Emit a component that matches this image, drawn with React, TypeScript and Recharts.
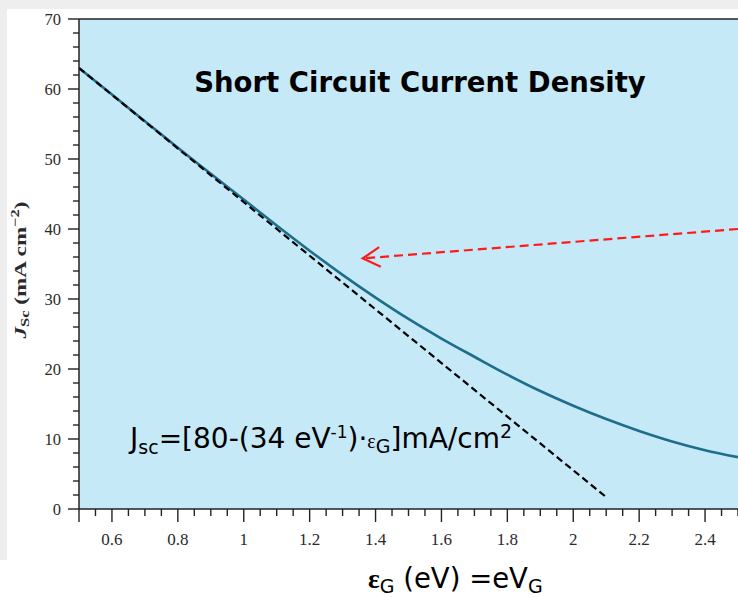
import React from "react";
import { LineChart, Line, XAxis, YAxis, ReferenceArea, ReferenceLine } from "recharts";

// Band-gap energies (eV) and short-circuit current density (mA/cm^2) of the solid curve
const gapEnergies = [0.5, 0.6, 0.7, 0.8, 0.9, 1.0, 1.1, 1.2, 1.3, 1.4, 1.5, 1.6, 1.7, 1.8, 1.9, 2.0, 2.1, 2.2, 2.3, 2.4, 2.5];
const jscValues = [63.0, 59.2, 55.4, 51.6, 47.9, 44.2, 40.5, 36.9, 33.45, 30.2, 27.15, 24.35, 21.75, 19.2, 16.85, 14.75, 12.85, 11.15, 9.65, 8.4, 7.4];

// Linear approximation (dashed black)
const fitEnergies = [0.5, 2.1];
const fitValues = [63.0, 1.7];

// Red arrow (dashed shaft and open head)
const arrowShaftX = [2.5, 1.361];
const arrowShaftY = [40.0, 35.8];
const arrowHeadX = [1.411, 1.361, 1.416];
const arrowHeadY = [37.4, 35.8, 34.6];

// Axis ticks
const xMajorLabels = ["0.6", "0.8", "1", "1.2", "1.4", "1.6", "1.8", "2", "2.2", "2.4"];
const yMajorLabels = ["0", "10", "20", "30", "40", "50", "60", "70"];
const xTicks = Array.from({ length: 41 }, (_, i) => Math.round((0.5 + i * 0.05) * 100) / 100);
const yTicks = Array.from({ length: 36 }, (_, i) => i * 2);

const zip = (xs: number[], ys: number[]) => xs.map((x, i) => ({ x, y: ys[i] }));
const curveData = zip(gapEnergies, jscValues);
const fitData = zip(fitEnergies, fitValues);
const shaftData = zip(arrowShaftX, arrowShaftY);
const headData = zip(arrowHeadX, arrowHeadY);

const AXIS = "#222";
const TICK_FONT = "'Liberation Serif', 'Times New Roman', serif";
const SANS = "'DejaVu Sans', Verdana, sans-serif";

const XTick = (props: any) => {
  const { x, y, payload } = props;
  const v = payload.value as number;
  const label = xMajorLabels.find((l) => Math.abs(parseFloat(l) - v) < 1e-6);
  const long = !!label || Math.abs(v - 0.5) < 1e-6;
  return (
    <g>
      <line x1={x} y1={y} x2={x} y2={y + (long ? 13 : 7)} stroke={AXIS} strokeWidth={1.4} />
      {label && (
        <text x={x} y={y + 36} textAnchor="middle" fontFamily={TICK_FONT} fontSize={17} fill="#2a2a2a">
          {label}
        </text>
      )}
    </g>
  );
};

const YTick = (props: any) => {
  const { x, y, payload } = props;
  const v = payload.value as number;
  const label = yMajorLabels.find((l) => parseFloat(l) === v);
  return (
    <g>
      <line x1={x - (label ? 11 : 6)} y1={y} x2={x} y2={y} stroke={AXIS} strokeWidth={1.4} />
      {label && (
        <text x={x - 18} y={y + 5.5} textAnchor="end" fontFamily={TICK_FONT} fontSize={16.5} fill="#2a2a2a">
          {label}
        </text>
      )}
    </g>
  );
};

export default function App() {
  return (
    <div style={{ position: "absolute", left: 0, top: 0, width: 738, height: 597, background: "#fff", overflow: "hidden" }}>
      <div style={{ position: "absolute", left: 0, top: 0, width: 738, height: 9, background: "#eeeeee" }} />
      <div style={{ position: "absolute", left: 0, top: 0, width: 7, height: 560, background: "#eeeeee" }} />
      <div style={{ position: "absolute", left: 0, top: 0 }}>
        <LineChart width={738} height={597} margin={{ top: 19, right: 0, bottom: 0, left: 0 }}>
          <XAxis
            type="number"
            dataKey="x"
            domain={[0.5, 2.5]}
            ticks={xTicks}
            interval={0}
            tickSize={0}
            tickMargin={0}
            tick={XTick}
            height={88}
            axisLine={{ stroke: AXIS, strokeWidth: 1.5 }}
            allowDataOverflow
          />
          <YAxis
            type="number"
            domain={[0, 70]}
            ticks={yTicks}
            interval={0}
            tickSize={0}
            tickMargin={0}
            tick={YTick}
            width={79}
            axisLine={{ stroke: AXIS, strokeWidth: 1.5 }}
            allowDataOverflow
          />
          <ReferenceArea x1={0.5} x2={2.5} y1={0} y2={70} fill="#c6e9f8" fillOpacity={1} stroke="none" />
          <ReferenceLine y={70} stroke={AXIS} strokeWidth={1.5} />
          <Line data={curveData} dataKey="y" type="monotone" stroke="#1e6e8b" strokeWidth={2.6} dot={false} activeDot={false} isAnimationActive={false} />
          <Line data={fitData} dataKey="y" type="linear" stroke="#000" strokeWidth={2.2} strokeDasharray="7 4" dot={false} activeDot={false} isAnimationActive={false} />
          <Line data={shaftData} dataKey="y" type="linear" stroke="#ff1a1a" strokeWidth={2.2} strokeDasharray="9 5" dot={false} activeDot={false} isAnimationActive={false} />
          <Line data={headData} dataKey="y" type="linear" stroke="#ff1a1a" strokeWidth={2.2} dot={false} activeDot={false} isAnimationActive={false} />
        </LineChart>
      </div>
      <svg width={738} height={597} style={{ position: "absolute", left: 0, top: 0, pointerEvents: "none" }}>
        <text x={420} y={92} textAnchor="middle" fontFamily={SANS} fontWeight="bold" fontSize={27.5} fill="#000">
          Short Circuit Current Density
        </text>
        <text x={130} y={448} fontFamily={SANS} fontSize={28} fill="#000">
          <tspan>J</tspan>
          <tspan fontSize={19} dy={6}>sc</tspan>
          <tspan dy={-6}>=[80-(34 eV</tspan>
          <tspan fontSize={17} dy={-10}>-1</tspan>
          <tspan dy={10}>)·</tspan>
          <tspan fontSize={20} fontFamily={TICK_FONT}>ε</tspan>
          <tspan fontSize={19} dy={5}>G</tspan>
          <tspan dy={-5}>]mA/cm</tspan>
          <tspan fontSize={19} dy={-10}>2</tspan>
        </text>
        <text x={368} y={588} fontFamily={SANS} fontSize={27.5} fill="#000">
          <tspan fontFamily={TICK_FONT} fontWeight="bold">ε</tspan>
          <tspan fontSize={19} dy={5}>G</tspan>
          <tspan dy={-5}> (eV) =eV</tspan>
          <tspan fontSize={19} dy={5}>G</tspan>
        </text>
        <g transform="translate(26,270) rotate(-90)">
          <text x={0} y={0} textAnchor="middle" fontFamily={TICK_FONT} fontWeight="bold" fontSize={17} fill="#2a2a2a" textLength={137} lengthAdjust="spacingAndGlyphs">
            <tspan fontStyle="italic">J</tspan>
            <tspan fontSize={12} dy={3}>Sc</tspan>
            <tspan dy={-3}> (mA cm</tspan>
            <tspan fontSize={12} dy={-7}>−2</tspan>
            <tspan dy={7}>)</tspan>
          </text>
        </g>
      </svg>
    </div>
  );
}
